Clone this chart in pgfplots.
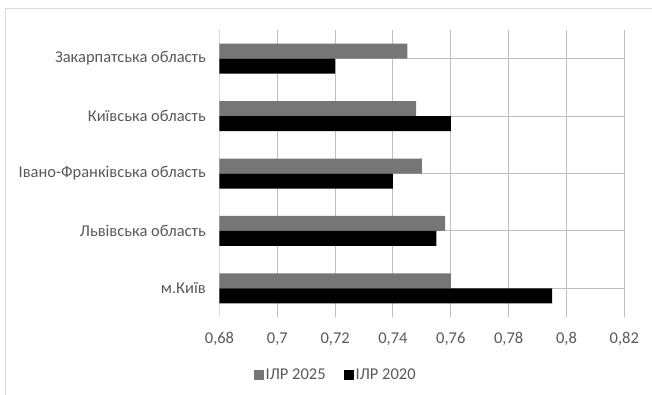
\documentclass[border=0pt]{standalone}
\usepackage{pgfplots}
\pgfplotsset{compat=1.18}
\usepackage{fontspec}
\setmainfont{Carlito}
\definecolor{txt}{RGB}{89,89,89}
\definecolor{grid}{RGB}{217,217,217}
\definecolor{bar25}{RGB}{118,118,118}
\definecolor{bar20}{RGB}{0,0,0}
\begin{document}
\fontsize{16.5bp}{19bp}\selectfont
\begin{tikzpicture}
\begin{axis}[
  at={(0,0)}, anchor=south west,
  scale only axis,
  width=404.8bp, height=287bp,
  xbar, bar width=15bp,
  xmin=0.68, xmax=0.82,
  ymin=-0.5, ymax=4.5,
  xtick={0.68,0.70,0.72,0.74,0.76,0.78,0.80,0.82},
  xticklabels={{0,68},{0,7},{0,72},{0,74},{0,76},{0,78},{0,8},{0,82}},
  ytick={0,1,2,3,4},
  yticklabels={м.Київ,Львівська область,Івано-Франківська область,Київська область,Закарпатська область},
  xmajorgrids, major grid style={grid, line width=1bp},
  axis line style={draw=none},
  axis x line*=bottom, axis y line*=left,
  major tick length=0pt,
  tick label style={text=txt, font=\fontsize{16.5bp}{19bp}\selectfont},
  xticklabel style={yshift=-10bp},
  yticklabel style={xshift=-8bp},
  legend style={draw=none, fill=none, at={(0.287,-0.202)}, anchor=center,
    font=\fontsize{16.5bp}{19bp}\selectfont, text=txt,
    /tikz/every even column/.append style={column sep=16bp},
    inner sep=0pt},
  legend columns=2,
  legend image code/.code={\fill[#1] (0bp,-5bp) rectangle (10bp,5bp);},
  clip=false,
]
% vertical axis line drawn like a grid line
\draw[grid, line width=1bp] (axis cs:0.68,-0.5) -- (axis cs:0.68,4.5);
\addplot[fill=bar25, draw=none, bar shift=7.5bp] coordinates {
  (0.760,0) (0.758,1) (0.750,2) (0.748,3) (0.745,4)};
\addplot[fill=bar20, draw=none, bar shift=-7.5bp] coordinates {
  (0.795,0) (0.755,1) (0.740,2) (0.760,3) (0.720,4)};
\legend{ІЛР 2025, ІЛР 2020}
\end{axis}
\draw[grid, line width=1bp] (-213.5bp,-90bp) -- (-213.5bp,308bp) -- (445bp,308bp);
\pgfresetboundingbox
\path[use as bounding box] (-219.5bp,-78bp) rectangle (432.5bp,317bp);
\end{tikzpicture}
\end{document}
